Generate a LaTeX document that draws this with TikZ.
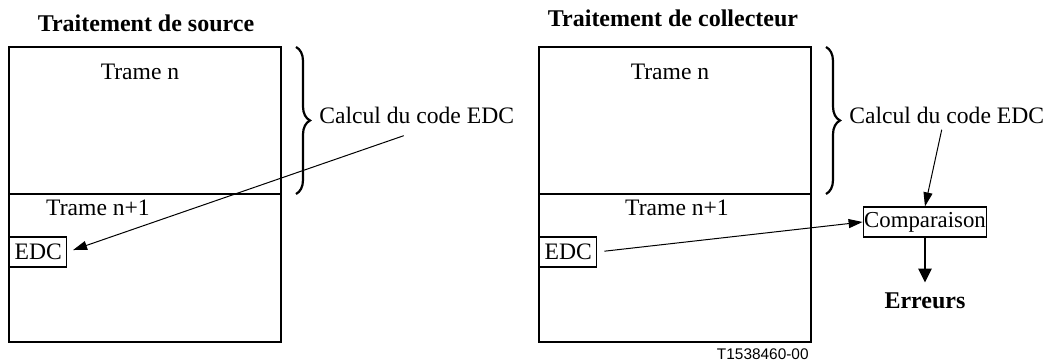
\documentclass[tikz,border=0pt]{standalone}
\usepackage{fontspec}
\setmainfont{Liberation Serif}
\setsansfont{Liberation Sans}
\usetikzlibrary{calc,arrows.meta,decorations.pathreplacing}
\tikzset{
  texte/.style={font=\fontsize{11.8}{14}\selectfont,inner sep=0pt},
  titre/.style={texte,font=\fontsize{12}{14}\selectfont\bfseries},
  boite/.style={texte,draw,line width=0.6pt,minimum height=15pt,inner xsep=2.5pt},
  cadre/.style={line width=0.6pt},
  separation/.style={line width=1.2pt},
  accolade/.style={decorate,decoration={brace,amplitude=7pt},line width=1.1pt},
  fleche/.style={-{Triangle[length=7pt,width=4.5pt]},line width=0.5pt},
  grossefleche/.style={-{Triangle[length=7pt,width=6.5pt]},line width=1.2pt},
}
% #1 nom, #2 bord gauche, #3 x de "Trame n+1"
\newcommand{\panneau}[3]{
  \draw[cadre] (#2,47) rectangle ++(272,295);
  \draw[separation] (#2,194) -- ++(272,0);
  \node[texte] (#1n) at ($(#2,72)+(131,0)$) {Trame n};
  \node[texte] (#1nn) at (#3,208) {Trame n+1};
  \node[boite,anchor=west] (#1edc) at (#2,252) {EDC};
  \draw[accolade] ($(#2,47)+(287,0)$) -- ($(#2,194)+(287,0)$);
  \node[texte,anchor=west] (#1calc) at ($(#2,115)+(310,0)$) {Calcul du code EDC};
}

\begin{document}
\begin{tikzpicture}[x=0.5pt,y=-0.5pt]
  \useasboundingbox (0,0) rectangle (1046,363);
  \panneau{src}{9}{98}
  \panneau{col}{539}{677}
  \node[titre] (srctitre) at (146,23) {Traitement de source};
  \node[titre] (coltitre) at (673,18) {Traitement de collecteur};

  \coordinate (srcdepart) at ($(srccalc.south)+(-13,12)$);
  \draw[fleche,shorten >=3pt] (srcdepart) -- (srcedc.east);

  \node[boite,inner xsep=0.5pt,font=\fontsize{11.4}{13}\selectfont] (comp) at (925,222) {Comparaison};
  \node[titre] (erreurs) at (925,301) {Erreurs};
  \draw[fleche,shorten <=3.5pt] (coledc.east) -- (comp.west);
  \coordinate (coldepart) at ($(colcalc.south)+(-5,6)$);
  \draw[fleche] (coldepart) -- (comp.north);
  \draw[grossefleche,shorten >=5pt] (comp.south) -- (erreurs.north);

  \node[font=\sffamily\fontsize{7.7}{9}\selectfont,inner sep=0pt,anchor=east] (reference) at (809,354) {T1538460-00};
\end{tikzpicture}
\end{document}
